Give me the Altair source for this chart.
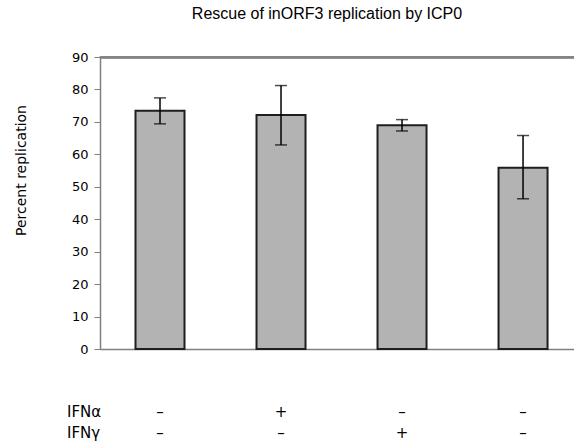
import altair as alt
import pandas as pd

lanes = ["1", "2", "3", "4"]
ifn_alpha = ["–", "+", "–", "–"]
ifn_gamma = ["–", "–", "+", "–"]
replication = [73.4, 72.1, 69.0, 55.9]
err_low = [69.4, 62.9, 67.2, 46.3]
err_high = [77.4, 81.2, 70.7, 65.8]
row_names = ["IFNα", "IFNγ"]
y_ticks = [0, 10, 20, 30, 40, 50, 60, 70, 80, 90]
y_max = 90

df = pd.DataFrame({
    "lane": lanes,
    "alpha": ifn_alpha,
    "gamma": ifn_gamma,
    "value": replication,
    "lo": err_low,
    "hi": err_high,
})

AXIS_GRAY = "#808080"
FONT = "DejaVu Sans"
W, H = 474, 292

x_scale = alt.Scale(paddingInner=0.595, paddingOuter=0.256, align=0.573)
x_enc = alt.X(
    "lane:N",
    sort=lanes,
    scale=x_scale,
    axis=alt.Axis(labels=False, ticks=False, title=None, domainColor=AXIS_GRAY,
                  domainWidth=1.5),
)
x_top = alt.X(
    "lane:N",
    sort=lanes,
    scale=x_scale,
    axis=alt.Axis(orient="top", labels=False, ticks=False, title=None,
                  domainColor=AXIS_GRAY, domainWidth=1.5),
)
y_scale = alt.Scale(domain=[0, y_max], nice=False, zero=True)
y_axis = alt.Axis(
    values=y_ticks, grid=False, title="Percent replication",
    titleFont=FONT, titleFontSize=14, titleFontWeight="normal",
    titleColor="#000000", titleX=-79, titleY=113, titleAngle=-90,
    titleAlign="center", titleBaseline="middle",
    labelFont=FONT, labelFontSize=13, labelColor="#000000",
    labelPadding=6, tickSize=6, tickColor=AXIS_GRAY, labelOverlap=False,
    domainColor=AXIS_GRAY, domainWidth=1.5, tickWidth=1,
)


def y_enc(field):
    return alt.Y(field, type="quantitative", scale=y_scale, axis=y_axis)


base = alt.Chart(df)

bars = base.mark_bar(fill="#b3b3b3", stroke="#1e1e1e", strokeWidth=2).encode(
    x=x_enc, y=y_enc("value")
)

err_rule = base.mark_rule(color="#000000", strokeWidth=1.5).encode(
    x=x_enc, y=y_enc("lo"), y2="hi:Q"
)
cap_hi = base.mark_tick(color="#000000", thickness=1.5, size=12, orient="horizontal").encode(
    x=x_enc, y=y_enc("hi")
)
cap_lo = base.mark_tick(color="#000000", thickness=1.5, size=12, orient="horizontal").encode(
    x=x_enc, y=y_enc("lo")
)

# top frame line of the plot area: drawn as a top x-axis domain plus a tick at y = 90
frame_df = pd.DataFrame({"lane": lanes, "top": [y_max] * 4})
top_line = alt.Chart(frame_df).mark_tick(
    color=AXIS_GRAY, thickness=2, size=121, orient="horizontal"
).encode(x=x_top, y=y_enc("top"))

sign_a = base.mark_text(font=FONT, fontSize=15, color="#000000", baseline="middle").encode(
    x=x_enc, y=alt.value(355), text="alpha:N"
)
sign_g = base.mark_text(font=FONT, fontSize=15, color="#000000", baseline="middle").encode(
    x=x_enc, y=alt.value(376), text="gamma:N"
)

rows_df = pd.DataFrame({"name": row_names})
row_a = alt.Chart(rows_df.iloc[[0]]).mark_text(
    font=FONT, fontSize=15, color="#000000", align="left", baseline="middle"
).encode(x=alt.value(-33), y=alt.value(355), text="name:N")
row_g = alt.Chart(rows_df.iloc[[1]]).mark_text(
    font=FONT, fontSize=15, color="#000000", align="left", baseline="middle"
).encode(x=alt.value(-33), y=alt.value(376), text="name:N")

chart = alt.layer(
    bars, err_rule, cap_hi, cap_lo, top_line, sign_a, sign_g, row_a, row_g
).resolve_axis(x="independent").properties(
    width=W,
    height=H,
    autosize=alt.AutoSizeParams(type="none"),
    padding={"left": 100, "top": 57, "right": 0, "bottom": 95},
    title=alt.TitleParams(
        "Rescue of inORF3 replication by ICP0",
        font="Liberation Sans", fontSize=16, fontWeight="normal", color="#000000",
        anchor="middle", dx=-10, offset=29,
    ),
).configure_view(stroke=None).configure(background="white")

chart.save("out.html", embed_options={"renderer": "svg", "actions": False})
